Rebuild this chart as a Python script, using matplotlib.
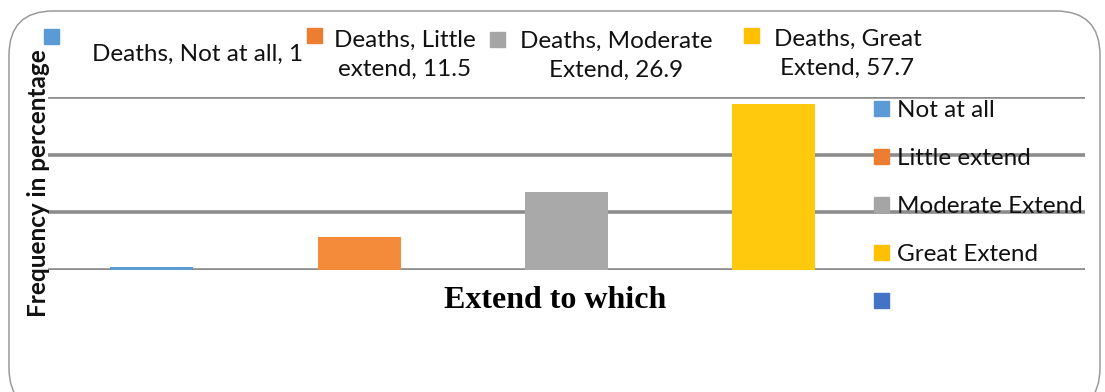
import matplotlib.pyplot as plt
import matplotlib.transforms as mtransforms
from matplotlib.patches import FancyBboxPatch, Rectangle, Patch

categories = ['Not at all', 'Little extend', 'Moderate Extend', 'Great Extend']
deaths = [1, 11.5, 26.9, 57.7]
label_text = ['Deaths, Not at all, 1', 'Deaths, Little\nextend, 11.5',
              'Deaths, Moderate\nExtend, 26.9', 'Deaths, Great\nExtend, 57.7']
colors = ['#5B9BD5', '#F38B3B', '#A9A9A9', '#FFC90E']
legend_colors = ['#5B9BD5', '#ED7D31', '#A5A5A5', '#FFC000', '#4472C4']

W, H = 1105, 392
fig = plt.figure(figsize=(W / 100, H / 100), dpi=100)
plt.rcParams['font.family'] = ['Lato', 'DejaVu Sans']

# rounded outer frame
frame = FancyBboxPatch((9 / W, -20 / H), 1091 / W, 401 / H,
                       boxstyle='round,pad=0,rounding_size=0.04',
                       transform=fig.transFigure, fill=False,
                       edgecolor='#9a9a9a', linewidth=1.1, mutation_aspect=W / H)
fig.patches.append(frame)

ax = fig.add_axes([48 / W, 1 - 270 / H, 1037 / W, 173 / H])
x = range(len(categories))
ax.bar(x, deaths, width=0.4, color=colors, zorder=3)
ax.set_xlim(-0.5, 4.5)
ax.set_ylim(0, 60)
ax.set_yticks([0, 20, 40, 60])
ax.grid(axis='y', color='#8c8c8c', linewidth=2.6, zorder=1)
ax.tick_params(left=False, bottom=False, labelleft=False, labelbottom=False)
for s in ax.spines.values():
    s.set_visible(False)

# data labels sit above the plot area
trans = mtransforms.blended_transform_factory(ax.transData, fig.transFigure)
text_dx = [0.22, 0.22, 0.24, 0.355]
text_y = [54, 55, 56, 54]
sq_x = [-0.483, 0.787, 1.669, 2.893]
sq_y = [36, 35.5, 39.5, 35.5]
sq = 15 / 207.5
for i, (txt, c) in enumerate(zip(label_text, legend_colors)):
    fig.text(i + text_dx[i], 1 - text_y[i] / H, txt, transform=trans,
             ha='center', va='center', fontsize=17.5, linespacing=1.5,
             color='#111111')
    fig.patches.append(Rectangle((sq_x[i] - sq / 2, 1 - (sq_y[i] + 7.5) / H), sq, 15 / H,
                                 transform=trans, color=c))

ax.set_ylabel('Frequency in percentage', fontsize=17.5, fontweight='bold',
              color='#111111')
ax.yaxis.set_label_coords(2 / 1037, 0.5)
fig.text(555 / W, 1 - 300 / H, 'Extend to which', ha='center', va='center',
         fontsize=23, fontweight='bold', family='Liberation Serif')

handles = [Patch(color=c) for c in legend_colors]
fig.legend(handles, categories + [''], loc='upper left',
           bbox_to_anchor=(862 / W, 1 - 88 / H), frameon=False, fontsize=17.5,
           handlelength=0.62, handleheight=0.62, handletextpad=0.33,
           labelspacing=1.11, borderpad=0, labelcolor='#111111')

fig.savefig('out.png', dpi=100)
